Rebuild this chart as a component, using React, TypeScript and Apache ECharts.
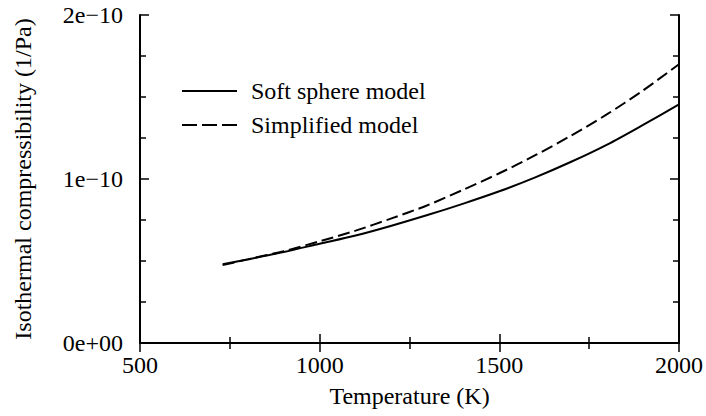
import React, { useEffect, useRef } from "react";
import * as echarts from "echarts";

const temperatures = [730, 800, 900, 1000, 1100, 1200, 1300, 1400, 1500, 1600, 1700, 1800, 1900, 2000];
const softSphere = [4.8e-11, 5.1e-11, 5.55e-11, 6.05e-11, 6.55e-11, 7.15e-11, 7.8e-11, 8.5e-11, 9.25e-11, 1.01e-10, 1.105e-10, 1.21e-10, 1.33e-10, 1.455e-10];
const simplified = [4.75e-11, 5.1e-11, 5.6e-11, 6.2e-11, 6.85e-11, 7.6e-11, 8.4e-11, 9.35e-11, 1.035e-10, 1.145e-10, 1.265e-10, 1.395e-10, 1.54e-10, 1.7e-10];
const seriesNames = ["Soft sphere model", "Simplified model"];
const yTickValues = [0, 1e-10, 2e-10];
const yTickLabels = ["0e+00", "1e\u221210", "2e\u221210"];

const FONT = "'Liberation Serif', 'Times New Roman', serif";
const FS = 24;

export default function App() {
  const ref = useRef<HTMLDivElement>(null);
  useEffect(() => {
    if (!ref.current) return;
    const chart = echarts.init(ref.current, undefined, { renderer: "svg" });
    const axisLine = { show: true, lineStyle: { color: "#000", width: 2 } };
    const tick = { show: true, inside: true, length: 9, lineStyle: { color: "#000", width: 1.5 } };
    const minor = (n: number) => ({ show: true, splitNumber: n, length: 6, lineStyle: { color: "#000", width: 1.5 } });
    const yLabel = (v: number) => {
      const i = yTickValues.findIndex((t) => Math.abs(t - v) < 1e-14);
      return i >= 0 ? yTickLabels[i] : "";
    };
    chart.setOption({
      animation: false,
      backgroundColor: "#fff",
      grid: { left: 140, right: 25, top: 15, bottom: 73, containLabel: false },
      legend: {
        left: 181,
        top: 79,
        padding: 0,
        orient: "vertical",
        itemWidth: 55,
        itemHeight: 14,
        itemGap: 10,
        itemStyle: { opacity: 0 },
        textStyle: { fontFamily: FONT, fontSize: FS, color: "#000", lineHeight: 24, padding: [0, 0, 0, 9] },
        data: [
          { name: seriesNames[0] },
          { name: seriesNames[1], lineStyle: { type: [15, 5] } },
        ],
      },
      xAxis: [
        {
          type: "value",
          min: 500,
          max: 2000,
          interval: 500,
          name: "Temperature (K)",
          nameLocation: "middle",
          nameGap: 41,
          nameTextStyle: { fontFamily: FONT, fontSize: FS, color: "#000" },
          axisLine,
          axisTick: tick,
          minorTick: minor(2),
          splitLine: { show: false },
          axisLabel: { fontFamily: FONT, fontSize: FS, color: "#000", margin: 10, formatter: (v: number) => String(v) },
        },
        {
          type: "value",
          position: "top",
          min: 500,
          max: 2000,
          interval: 500,
          axisLine,
          axisTick: tick,
          minorTick: minor(2),
          splitLine: { show: false },
          axisLabel: { show: false },
        },
      ],
      yAxis: [
        {
          type: "value",
          min: 0,
          max: 2e-10,
          interval: 1e-10,
          name: "Isothermal compressibility (1/Pa)",
          nameLocation: "middle",
          nameGap: 105,
          nameTextStyle: { fontFamily: FONT, fontSize: FS, color: "#000" },
          axisLine,
          axisTick: tick,
          minorTick: minor(4),
          splitLine: { show: false },
          axisLabel: { fontFamily: FONT, fontSize: FS, color: "#000", margin: 17, formatter: yLabel },
        },
        {
          type: "value",
          position: "right",
          min: 0,
          max: 2e-10,
          interval: 1e-10,
          axisLine,
          axisTick: tick,
          minorTick: minor(4),
          splitLine: { show: false },
          axisLabel: { show: false },
        },
      ],
      series: [
        {
          name: seriesNames[0],
          type: "line",
          symbol: "none",
          showSymbol: false,
          smooth: 0.3,
          lineStyle: { color: "#000", width: 2, type: "solid" },
          itemStyle: { color: "#000" },
          data: temperatures.map((t, i) => [t, softSphere[i]]),
        },
        {
          name: seriesNames[1],
          type: "line",
          symbol: "none",
          showSymbol: false,
          smooth: 0.3,
          lineStyle: { color: "#000", width: 2, type: [12, 5] },
          itemStyle: { color: "#000" },
          data: temperatures.map((t, i) => [t, simplified[i]]),
        },
      ],
    });
    return () => chart.dispose();
  }, []);
  return <div ref={ref} style={{ position: "fixed", left: 0, top: 0, width: 706, height: 416 }} />;
}
